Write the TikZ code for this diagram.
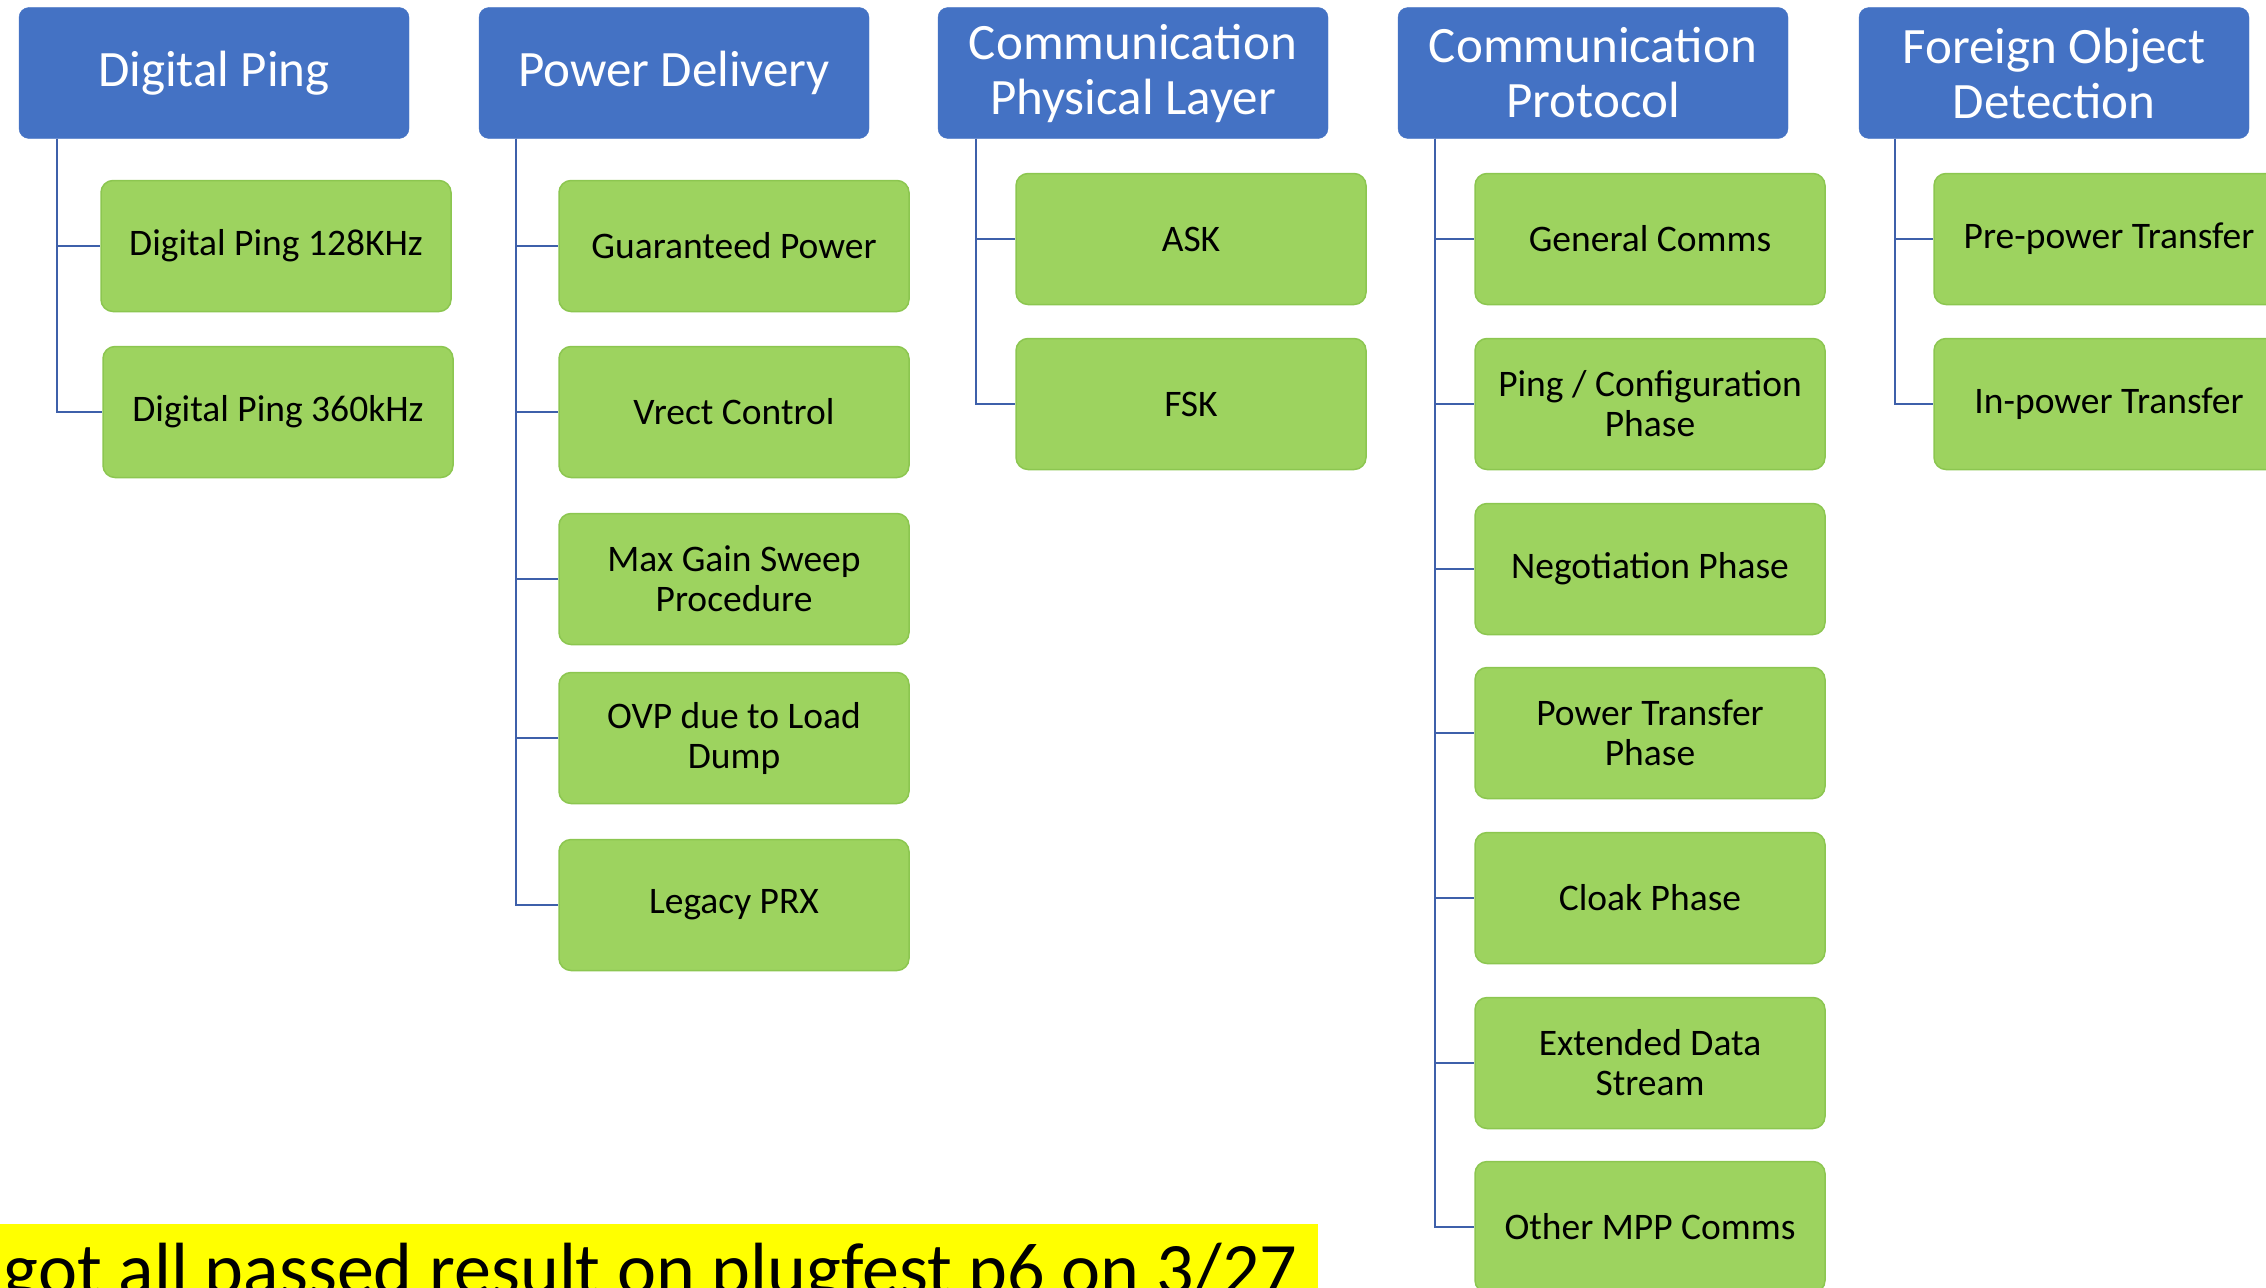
\documentclass[tikz,border=0pt]{standalone}
\usepackage{fontspec}
\setmainfont{Carlito}
\definecolor{hdrblue}{RGB}{68,114,196}
\definecolor{leafgreen}{RGB}{157,211,95}
\definecolor{leafedge}{RGB}{140,198,80}
\definecolor{linkblue}{RGB}{62,96,170}
\definecolor{hiyellow}{RGB}{255,255,0}
\begin{document}
\begin{tikzpicture}[x=1pt,y=-1pt,
  hdr/.style={draw=hdrblue, fill=hdrblue, rounded corners=10pt, minimum width=390pt,
    minimum height=131pt, inner sep=0pt, text=white, align=center,
    font=\fontsize{51}{55}\selectfont},
  leaf/.style={draw=leafedge, line width=1.5pt, fill=leafgreen, rounded corners=12pt,
    minimum width=350pt, minimum height=131pt, inner sep=0pt, align=center,
    font=\fontsize{37.5}{40}\selectfont},
  link/.style={draw=linkblue, line width=2.5pt}]
      \clip (0,0) rectangle (2266,1287);
      % headers
      \node[hdr] (dp) at (214,73) {Digital Ping};
      \node[hdr] (pd) at (674,73) {Power Delivery};
      \node[hdr] (cpl) at (1133,73) {Communication\\Physical Layer};
      \node[hdr] (cp) at (1593,73) {Communication\\Protocol};
      \node[hdr] (fod) at (2054,73) {Foreign Object\\Detection};
      % digital ping
      \node[leaf] (dp1) at (276,246) {Digital Ping 128KHz};
      \node[leaf] (dp2) at (278,412) {Digital Ping 360kHz};
      % power delivery
      \node[leaf] (pd1) at (734,246) {Guaranteed Power};
      \node[leaf] (pd2) at (734,412) {Vrect Control};
      \node[leaf] (pd3) at (734,579) {Max Gain Sweep\\Procedure};
      \node[leaf] (pd4) at (734,738) {OVP due to Load\\Dump};
      \node[leaf] (pd5) at (734,905) {Legacy PRX};
      % physical layer
      \node[leaf] (cpl1) at (1191,239) {ASK};
      \node[leaf] (cpl2) at (1191,404) {FSK};
      % protocol
      \node[leaf] (cp1) at (1650,239) {General Comms};
      \node[leaf] (cp2) at (1650,404) {Ping / Configuration\\Phase};
      \node[leaf] (cp3) at (1650,569) {Negotiation Phase};
      \node[leaf] (cp4) at (1650,733) {Power Transfer\\Phase};
      \node[leaf] (cp5) at (1650,898) {Cloak Phase};
      \node[leaf] (cp6) at (1650,1063) {Extended Data\\Stream};
      \node[leaf] (cp7) at (1650,1227) {Other MPP Comms};
      % fod
      \node[leaf] (fod1) at (2109,239) {Pre-power Transfer};
      \node[leaf] (fod2) at (2109,404) {In-power Transfer};
      % tree lines
      \foreach \k in {1,2}
        \draw[link] ([xshift=38pt]dp.south west) |- (dp\k.west);
      \foreach \k in {1,...,5}
        \draw[link] ([xshift=37pt]pd.south west) |- (pd\k.west);
      \foreach \k in {1,2}
        \draw[link] ([xshift=38pt]cpl.south west) |- (cpl\k.west);
      \foreach \k in {1,...,7}
        \draw[link] ([xshift=37pt]cp.south west) |- (cp\k.west);
      \foreach \k in {1,2}
        \draw[link] ([xshift=36pt]fod.south west) |- (fod\k.west);
      % note
      \fill[hiyellow] (0,1224) rectangle (1318,1300);
      \node[anchor=base east, inner sep=0pt, font=\fontsize{74}{80}\selectfont] (note) at (1298,1294)
        {got all passed result on plugfest p6 on 3/27};
\end{tikzpicture}
\end{document}
